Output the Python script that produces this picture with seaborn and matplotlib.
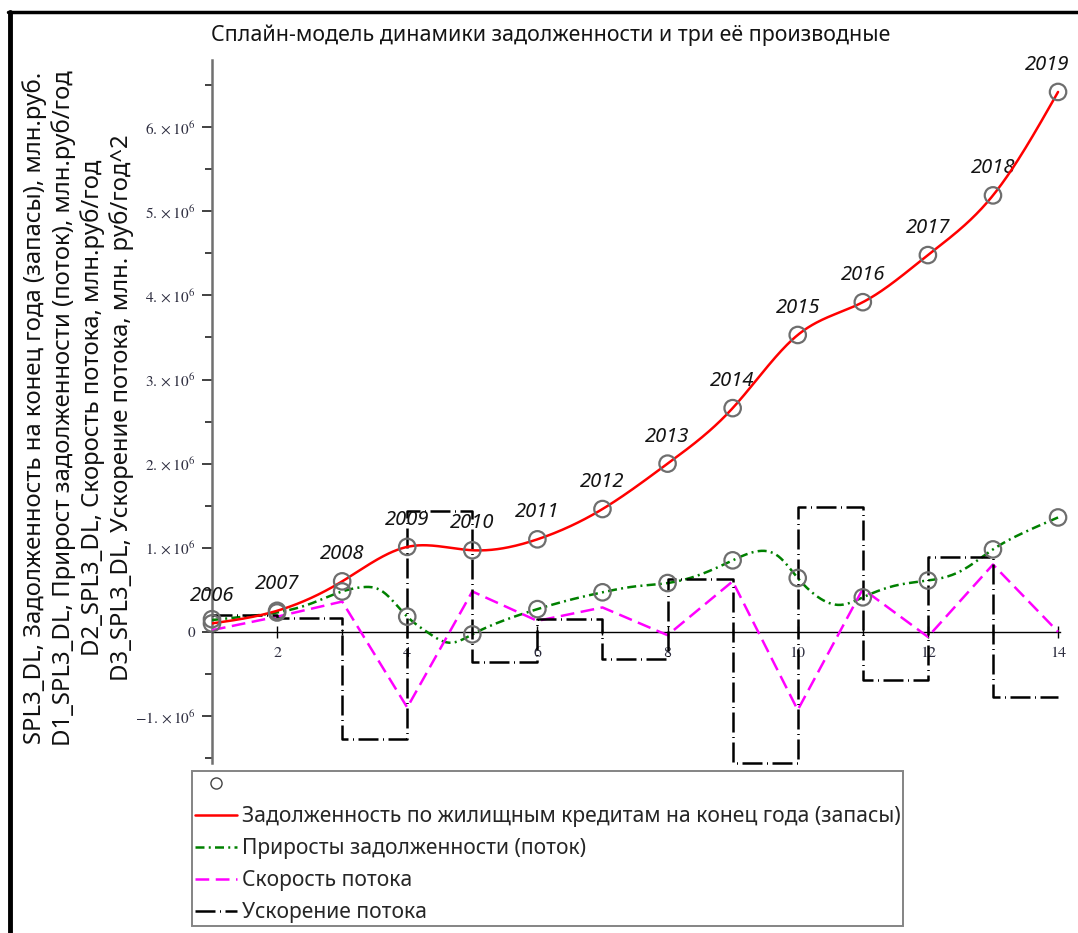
import numpy as np
import pandas as pd
import matplotlib
matplotlib.use("Agg")
import matplotlib.pyplot as plt
from matplotlib.lines import Line2D
from matplotlib.ticker import FixedLocator, FuncFormatter
import seaborn as sns

# ---- data (values in million rubles) ----
years = list(range(2006, 2020))
t = np.arange(1, 15)

stock = np.array([0.10, 0.25, 0.60, 1.01, 0.97, 1.10, 1.46, 2.00, 2.66, 3.53,
                  3.92, 4.48, 5.19, 6.42]) * 1e6
flow = np.array([0.15, 0.23, 0.48, 0.18, -0.03, 0.27, 0.47, 0.58, 0.85, 0.64,
                 0.41, 0.61, 0.98, 1.36]) * 1e6
# first derivative curve sampled along the time axis
flow_curve_t = np.array([1, 1.5, 2, 2.5, 3, 3.3, 3.6, 4, 4.3, 4.65, 5, 5.5, 6, 6.5,
                         7, 7.5, 8, 8.5, 9, 9.4, 9.7, 10, 10.3, 10.65, 11, 11.5,
                         12, 12.5, 13, 13.5, 14])
flow_curve_v = np.array([0.14, 0.18, 0.23, 0.33, 0.48, 0.53, 0.49, 0.18, 0.0, -0.13,
                         -0.03, 0.14, 0.27, 0.38, 0.47, 0.54, 0.58, 0.68, 0.85, 0.96,
                         0.90, 0.64, 0.42, 0.32, 0.41, 0.55, 0.61, 0.72, 0.98, 1.19,
                         1.36]) * 1e6
speed = np.array([0.02, 0.18, 0.36, -0.90, 0.48, 0.13, 0.29, -0.04, 0.60, -0.93,
                  0.51, -0.06, 0.80, 0.00]) * 1e6
accel = np.array([0.20, 0.16, -1.27, 1.44, -0.36, 0.15, -0.32, 0.63, -1.56, 1.49,
                  -0.57, 0.89, -0.78]) * 1e6

title = "Сплайн-модель динамики задолженности и три её производные"
ylabel = ("SPL3_DL, Задолженность на конец года (запасы), млн.руб.\n"
          "D1_SPL3_DL, Прирост задолженности (поток), млн.руб/год\n"
          "D2_SPL3_DL, Скорость потока, млн.руб/год\n"
          "D3_SPL3_DL, Ускорение потока, млн. руб/год^2")
legend_labels = [" ",
                 "Задолженность по жилищным кредитам на конец года (запасы)",
                 "Приросты задолженности (поток)",
                 "Скорость потока",
                 "Ускорение потока"]
x_ticks = [2, 4, 6, 8, 10, 12, 14]
y_ticks = [-1e6, 0, 1e6, 2e6, 3e6, 4e6, 5e6, 6e6]


def natural_spline(xk, yk, xs):
    """Evaluate a natural cubic spline through (xk, yk) at xs."""
    xk = np.asarray(xk, float)
    yk = np.asarray(yk, float)
    n = len(xk)
    h = np.diff(xk)
    A = np.zeros((n, n))
    r = np.zeros(n)
    A[0, 0] = A[-1, -1] = 1.0
    for i in range(1, n - 1):
        A[i, i - 1] = h[i - 1]
        A[i, i] = 2 * (h[i - 1] + h[i])
        A[i, i + 1] = h[i]
        r[i] = 3 * ((yk[i + 1] - yk[i]) / h[i] - (yk[i] - yk[i - 1]) / h[i - 1])
    c = np.linalg.solve(A, r)
    b = (yk[1:] - yk[:-1]) / h - h * (2 * c[:-1] + c[1:]) / 3
    d = (c[1:] - c[:-1]) / (3 * h)
    idx = np.clip(np.searchsorted(xk, xs) - 1, 0, n - 2)
    dx = xs - xk[idx]
    return yk[idx] + b[idx] * dx + c[idx] * dx ** 2 + d[idx] * dx ** 3


sns.set_theme(style="white")
plt.rcParams["font.family"] = ["Noto Sans", "DejaVu Sans"]
plt.rcParams["mathtext.fontset"] = "stix"

fig = plt.figure(figsize=(10.78, 9.33), dpi=100)
ax = fig.add_axes([212 / 1078, (933 - 763) / 933, 848 / 1078, (763 - 60) / 933])

xs = np.linspace(1, 14, 600)
df_stock = pd.DataFrame({"t": xs, "v": natural_spline(t, stock, xs)})
df_flow = pd.DataFrame({"t": xs, "v": natural_spline(flow_curve_t, flow_curve_v, xs)})
df_speed = pd.DataFrame({"t": t, "v": speed})

lw = 1.8
ls_flow = (0, (3.6, 1.7, 0.8, 1.7))
ls_speed = (0, (5.5, 2.6))
ls_accel = (0, (8, 1.8, 0.4, 1.8))

sns.lineplot(data=df_stock, x="t", y="v", ax=ax, color="#ff0000", lw=lw,
             errorbar=None, zorder=4)
sns.lineplot(data=df_flow, x="t", y="v", ax=ax, color="#008000", lw=lw,
             linestyle=ls_flow, errorbar=None, zorder=3)
sns.lineplot(data=df_speed, x="t", y="v", ax=ax, color="#ff00ff", lw=lw,
             linestyle=ls_speed, errorbar=None, zorder=3)
ax.step(np.arange(1, 15), np.append(accel, accel[-1]), where="post",
        color="black", lw=lw, linestyle=ls_accel, clip_on=False, zorder=3)

pts = pd.DataFrame({"t": np.concatenate([t, t]),
                    "v": np.concatenate([stock, flow])})
ax.scatter(pts["t"], pts["v"], s=140, facecolors="none", edgecolors="#6e6e6e",
           linewidths=1.6, zorder=5, clip_on=False)

for yr, xi, yi in zip(years, t, stock):
    dx = -8 if yr == years[-1] else 0
    ax.annotate(str(yr), (xi, yi), xytext=(dx, 19.5), textcoords="offset points",
                ha="center", va="center", fontsize=14.5, style="italic",
                color="#141414", annotation_clip=False)

ax.set_xlim(1, 14.03)
ax.set_ylim(-1.56e6, 6.8e6)
ax.set_xlabel("")
ax.set_ylabel("")

for side in ("top", "right"):
    ax.spines[side].set_visible(False)
ax.spines["left"].set_color("#707070")
ax.spines["left"].set_linewidth(1.8)
ax.spines["bottom"].set_position(("data", 0))
ax.spines["bottom"].set_color("black")
ax.spines["bottom"].set_linewidth(1.0)

ax.xaxis.set_major_locator(FixedLocator(x_ticks))
ax.xaxis.set_minor_locator(FixedLocator([3, 5, 7, 9, 11, 13]))
ax.yaxis.set_major_locator(FixedLocator(y_ticks))
ax.yaxis.set_minor_locator(FixedLocator(np.arange(-1.5e6, 6.6e6, 1e6)))


def sci_fmt(v, pos):
    if v == 0:
        return "0"
    return r"$%d.\times10^{6}$" % round(v / 1e6)


ax.yaxis.set_major_formatter(FuncFormatter(sci_fmt))
ax.xaxis.set_major_formatter(FuncFormatter(lambda v, p: "%d" % v))
ax.tick_params(axis="y", which="major", direction="out", length=7, width=1.3,
               color="#333333", labelsize=11, labelcolor="#2e2e40", pad=5, left=True)
ax.tick_params(axis="y", which="minor", direction="out", length=5, width=1.3,
               color="#333333", left=True)
ax.tick_params(axis="x", which="major", direction="inout", length=8, width=1.0,
               color="black", labelsize=11.5, labelcolor="#2e2e40", pad=7, bottom=True)
ax.tick_params(axis="x", which="minor", direction="inout", length=5, width=1.0,
               color="black", bottom=True)
for lbl in ax.get_xticklabels() + ax.get_yticklabels():
    lbl.set_fontfamily("STIXGeneral")

fig.text(551 / 1078, 1 - 35 / 933, title, ha="center", va="center", fontsize=15.4,
         color="#141414")
fig.text(78 / 1078, 1 - 408 / 933, ylabel, ha="center", va="center", rotation=90,
         fontsize=17.2, linespacing=1.22, multialignment="center", color="#111111")

# frame lines at the left and top edges
fig.add_artist(Line2D([10 / 1078, 10 / 1078], [0, 1 - 12 / 933], color="black",
                      lw=3.5, transform=fig.transFigure))
fig.add_artist(Line2D([8 / 1078, 1], [1 - 12 / 933, 1 - 12 / 933], color="black",
                      lw=2.5, transform=fig.transFigure))

handles = [
    Line2D([], [], ls="none", marker="o", ms=8, mfc="none", mec="#444444", mew=1.0),
    Line2D([], [], color="#ff0000", lw=lw),
    Line2D([], [], color="#008000", lw=lw, linestyle=ls_flow),
    Line2D([], [], color="#ff00ff", lw=lw, linestyle=ls_speed),
    Line2D([], [], color="black", lw=lw, linestyle=ls_accel),
]
leg = fig.legend(handles, legend_labels, loc="upper left",
                 bbox_to_anchor=(192 / 1078, 1 - 771 / 933), fontsize=15.2,
                 frameon=True, fancybox=False, edgecolor="#666666",
                 handlelength=2.0, handletextpad=0.2, borderpad=0.15,
                 labelspacing=0.52, borderaxespad=0)
leg.get_frame().set_linewidth(1.4)

fig.savefig("out.png", dpi=100)
